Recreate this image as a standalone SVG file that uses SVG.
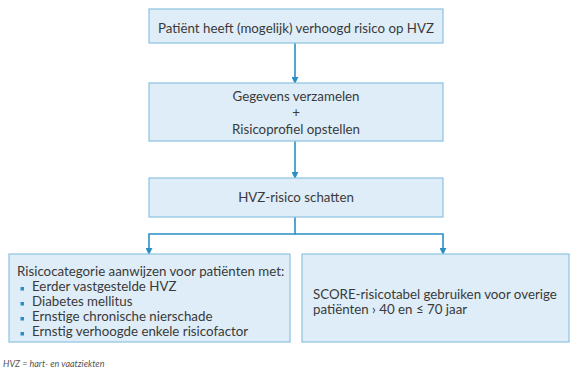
<svg xmlns="http://www.w3.org/2000/svg" width="573" height="376" viewBox="0 0 573 376">
<defs>
<style>
.box{fill:#deedf7;stroke:#94c6e2;stroke-width:1.3}
.t{font-family:Lato,"Open Sans",sans-serif;font-size:13.3px;fill:#3a3a3a}
.c{text-anchor:middle}
.ln{fill:none;stroke:#2b8fc6;stroke-width:1.6}
.fn{font-family:Lato,"Open Sans",sans-serif;font-size:9px;font-style:italic;fill:#555}
</style>
<marker id="ah" viewBox="0 0 8 8" refX="7" refY="4" markerWidth="7" markerHeight="7" markerUnits="userSpaceOnUse" orient="auto">
<path d="M0,0 L8,4 L0,8 Z" fill="#2b8fc6"/>
</marker>
</defs>
<rect width="573" height="376" fill="#ffffff"/>
<g id="connectors">
<path class="ln" d="M295,43 V83" marker-end="url(#ah)"/>
<path class="ln" d="M295,141 V178" marker-end="url(#ah)"/>
<path class="ln" d="M295,217 V234 H149 V254" marker-end="url(#ah)"/>
<path class="ln" d="M295,234 H443 V254" marker-end="url(#ah)"/>
</g>
<g id="n1">
<rect class="box" x="149" y="9" width="294" height="34"/>
<text class="t c" x="296" y="32.5">Patiënt heeft (mogelijk) verhoogd risico op HVZ</text>
</g>
<g id="n2">
<rect class="box" x="149" y="83" width="294" height="58"/>
<text class="t c" x="296" y="101">Gegevens verzamelen</text>
<text class="t c" x="296" y="117">+</text>
<text class="t c" x="296" y="134">Risicoprofiel opstellen</text>
</g>
<g id="n3">
<rect class="box" x="149" y="178" width="294" height="39"/>
<text class="t c" x="296" y="202">HVZ-risico schatten</text>
</g>
<g id="n4">
<rect class="box" x="9" y="254" width="281" height="88"/>
<text class="t" x="17" y="276">Risicocategorie aanwijzen voor patiënten met:</text>
<g fill="#2b8fc6">
<rect x="20.5" y="287" width="3.5" height="3.5"/>
<rect x="20.5" y="302" width="3.5" height="3.5"/>
<rect x="20.5" y="317" width="3.5" height="3.5"/>
<rect x="20.5" y="332" width="3.5" height="3.5"/>
</g>
<text class="t" x="32" y="291">Eerder vastgestelde HVZ</text>
<text class="t" x="32" y="306">Diabetes mellitus</text>
<text class="t" x="32" y="321">Ernstige chronische nierschade</text>
<text class="t" x="32" y="336">Ernstig verhoogde enkele risicofactor</text>
</g>
<g id="n5">
<rect class="box" x="302" y="254" width="267" height="88"/>
<text class="t" x="313" y="299">SCORE-risicotabel gebruiken voor overige</text>
<text class="t" x="313" y="314">patiënten › 40 en ≤ 70 jaar</text>
</g>
<text class="fn" x="3" y="367">HVZ = hart- en vaatziekten</text>
</svg>
